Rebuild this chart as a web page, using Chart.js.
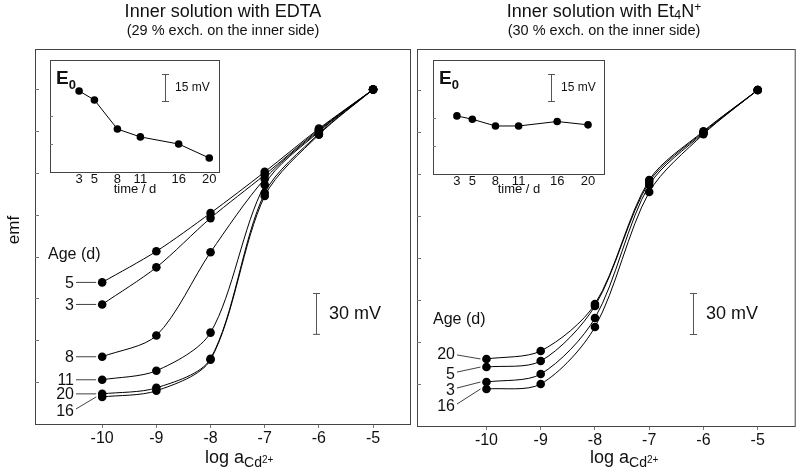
<!DOCTYPE html>
<html>
<head>
<meta charset="utf-8">
<script src="https://cdn.jsdelivr.net/npm/chart.js@4.4.0/dist/chart.umd.min.js"></script>
<style>
  html, body { margin: 0; padding: 0; background: #fff; }
  #wrap { position: relative; width: 800px; height: 471px; overflow: hidden; }
  #wrap canvas { position: absolute; left: 0; top: 0; }
</style>
</head>
<body>
<div id="wrap">
  <canvas id="mainL" width="800" height="471"></canvas>
  <canvas id="mainR" width="800" height="471"></canvas>
  <canvas id="insetL" width="800" height="471"></canvas>
  <canvas id="insetR" width="800" height="471"></canvas>
</div>
<script>
// emf vs log a(Cd2+) for two inner solutions, with E0-vs-time insets

const FONT = '"Liberation Sans", Arial, Helvetica, sans-serif';

const LOG_A = [-10, -9, -8, -7, -6, -5];
const X_TICKS = [-10, -9, -8, -7, -6, -5];
const Y_TICKS = [30, 60, 90, 120, 150, 180, 210, 240];

// EDTA panel, emf in mV (arbitrary zero)
const EDTA_AGES = ['5', '3', '8', '11', '20', '16'];
const EDTA_D5  = [101.5, 123.8, 151.2, 180.7, 211.7, 239.8];
const EDTA_D3  = [85.7, 112.3, 147.6, 178.6, 211.0, 239.8];
const EDTA_D8  = [48.2, 63.4, 123.1, 175.7, 210.2, 239.8];
const EDTA_D11 = [31.7, 38.2, 65.5, 171.4, 209.5, 239.8];
const EDTA_D20 = [21.6, 25.9, 46.8, 165.6, 208.1, 239.8];
const EDTA_D16 = [19.4, 23.8, 46.1, 163.4, 207.4, 239.8];

// Et4N+ panel
const ET4N_AGES = ['20', '5', '3', '16'];
const ET4N_D20 = [47.9, 53.6, 87.1, 175.7, 210.6, 240.0];
const ET4N_D5  = [42.1, 46.4, 85.7, 174.3, 210.0, 240.0];
const ET4N_D3  = [31.4, 37.1, 77.1, 172.1, 209.2, 240.0];
const ET4N_D16 = [26.4, 30.0, 70.7, 167.1, 208.5, 240.0];

// insets: E0 vs time
const DAYS = [3, 5, 8, 11, 16, 20];
const E0_EDTA = [43.4, 38.6, 23.0, 18.8, 15.0, 7.5];
const E0_ET4N = [31.1, 29.3, 25.7, 25.7, 28.1, 26.3];
const INSET_Y_TICKS = [15, 30];

// vertical offset of each age label from its first point (px)
const LBL_DY_EDTA = [0, 0, 0, 0, 0, 14];
const LBL_DY_ET4N = [-5, 7, 8, 17];

function richText(ctx, parts, x, base, align) {
  let total = 0;
  const ws = parts.map(p => {
    ctx.font = (p[3] ? 'bold ' : '') + p[1] + 'px ' + FONT;
    const w = ctx.measureText(p[0]).width;
    total += w;
    return w;
  });
  let cx = align === 'center' ? x - total / 2 : x;
  ctx.textAlign = 'left';
  ctx.textBaseline = 'alphabetic';
  parts.forEach((p, i) => {
    ctx.font = (p[3] ? 'bold ' : '') + p[1] + 'px ' + FONT;
    ctx.fillText(p[0], cx, base + p[2]);
    cx += ws[i];
  });
}

function scaleBar(ctx, x, top, len) {
  ctx.strokeStyle = '#555';
  ctx.lineWidth = 1;
  ctx.beginPath();
  ctx.moveTo(x + 0.5, top); ctx.lineTo(x + 0.5, top + len);
  ctx.moveTo(x - 3, top + 0.5); ctx.lineTo(x + 4, top + 0.5);
  ctx.moveTo(x - 3, top + len - 0.5); ctx.lineTo(x + 4, top + len - 0.5);
  ctx.stroke();
}

function mainDeco(o) {
  return {
    id: 'mainDeco',
    afterDraw(chart) {
      const { ctx, chartArea: a } = chart;
      const x = chart.scales.x, y = chart.scales.y;
      ctx.save();
      // frame
      ctx.strokeStyle = '#444';
      ctx.lineWidth = 1;
      ctx.strokeRect(a.left + 0.5, a.top + 0.5, a.right - a.left - 1, a.bottom - a.top);
      // inward y ticks
      ctx.strokeStyle = '#777';
      ctx.beginPath();
      Y_TICKS.forEach(v => {
        const py = Math.round(y.getPixelForValue(v)) + 0.5;
        ctx.moveTo(a.left, py); ctx.lineTo(a.left + 4, py);
      });
      ctx.stroke();

      ctx.fillStyle = '#111';
      // titles
      richText(ctx, o.title, o.cx, 17, 'center');
      richText(ctx, [[o.sub, 14.5, 0]], o.cx, 35, 'center');
      // x axis title
      richText(ctx, [['log a', 18, 0], ['Cd', 14, 4], ['2+', 10, 0]], o.axX, 463, 'left');

      // age labels with leader lines
      ctx.font = '16px ' + FONT;
      ctx.textAlign = 'left';
      ctx.textBaseline = 'middle';
      ctx.fillText('Age (d)', o.ageX, o.ageY);
      ctx.textAlign = 'right';
      ctx.strokeStyle = '#111';
      ctx.lineWidth = 0.8;
      o.series.forEach((vals, i) => {
        const px = x.getPixelForValue(LOG_A[0]);
        const py = y.getPixelForValue(vals[0]);
        const ly = py + o.dy[i];
        ctx.fillText(o.ages[i], o.lblRight, ly + 1);
        const sy = o.dy[i] > 0 ? ly - 2 : (o.dy[i] < 0 ? ly + 1 : ly);
        ctx.beginPath();
        ctx.moveTo(o.lblRight + 2, sy);
        ctx.lineTo(px - 6, py);
        ctx.stroke();
      });

      // 30 mV scale bar
      const len = y.getPixelForValue(0) - y.getPixelForValue(30);
      scaleBar(ctx, o.barX, 293, len);
      ctx.font = '18px ' + FONT;
      ctx.textAlign = 'left';
      ctx.textBaseline = 'middle';
      ctx.fillStyle = '#111';
      ctx.fillText('30 mV', o.barX + 13, 293 + len / 2);

      if (o.emf) {
        ctx.save();
        ctx.translate(14, 230);
        ctx.rotate(-Math.PI / 2);
        ctx.textAlign = 'center';
        ctx.font = '17px ' + FONT;
        ctx.fillText('emf', 0, 0);
        ctx.restore();
      }
      ctx.restore();
    }
  };
}

function insetDeco(o) {
  return {
    id: 'insetDeco',
    beforeDraw(chart) {
      const { ctx, chartArea: a } = chart;
      ctx.save();
      ctx.fillStyle = '#fff';
      ctx.fillRect(a.left, a.top, a.right - a.left, a.bottom - a.top);
      ctx.restore();
    },
    afterDraw(chart) {
      const { ctx, chartArea: a } = chart;
      const y = chart.scales.y;
      ctx.save();
      ctx.strokeStyle = '#444';
      ctx.lineWidth = 1;
      ctx.strokeRect(a.left + 0.5, a.top + 0.5, a.right - a.left - 1, a.bottom - a.top);
      ctx.strokeStyle = '#777';
      ctx.beginPath();
      INSET_Y_TICKS.forEach(v => {
        const py = Math.round(y.getPixelForValue(v)) + 0.5;
        ctx.moveTo(a.left, py); ctx.lineTo(a.left + 3, py);
      });
      ctx.stroke();

      ctx.fillStyle = '#111';
      richText(ctx, [['E', 19, 0, true], ['0', 13, 5, true]], a.left + 6, 84, 'left');

      const len = y.getPixelForValue(0) - y.getPixelForValue(15);
      scaleBar(ctx, o.barX, 74, len);
      ctx.fillStyle = '#111';
      ctx.font = '12px ' + FONT;
      ctx.textAlign = 'left';
      ctx.textBaseline = 'middle';
      ctx.fillText('15 mV', o.barX + 10, 74 + len / 2);

      ctx.font = '13px ' + FONT;
      ctx.textAlign = 'center';
      ctx.fillText('time / d', (a.left + a.right) / 2, 189);
      ctx.restore();
    }
  };
}

function mainChart(id, series, ages, area, xMin, xMax, yMax, deco) {
  const datasets = series.map((vals, i) => ({
    label: ages[i],
    data: LOG_A.map((v, j) => ({ x: v, y: vals[j] })),
    borderColor: '#000',
    backgroundColor: '#000',
    borderWidth: 1,
    pointRadius: 4.3,
    pointBorderWidth: 0,
    tension: 0.3,
    fill: false
  }));
  return new Chart(document.getElementById(id), {
    type: 'line',
    data: { datasets },
    options: {
      responsive: false,
      animation: false,
      events: [],
      layout: { padding: { left: area.l, right: 800 - area.r, top: area.t, bottom: 0 } },
      plugins: { legend: { display: false }, tooltip: { enabled: false } },
      scales: {
        x: {
          type: 'linear', min: xMin, max: xMax,
          afterBuildTicks: s => { s.ticks = X_TICKS.map(v => ({ value: v })); },
          afterFit: s => { s.height = 471 - area.b; },
          grid: { display: true, drawOnChartArea: false, drawTicks: true, tickLength: 4, color: '#777' },
          border: { display: false },
          ticks: { font: { family: FONT, size: 16 }, color: '#111', padding: 1, autoSkip: false, maxRotation: 0,
                   callback: v => String(v) }
        },
        y: { display: false, min: 0, max: yMax }
      }
    },
    plugins: [mainDeco(deco)]
  });
}

function insetChart(id, vals, area, xMin, xMax, yMax, deco) {
  return new Chart(document.getElementById(id), {
    type: 'line',
    data: {
      datasets: [{
        data: DAYS.map((d, j) => ({ x: d, y: vals[j] })),
        borderColor: '#000',
        backgroundColor: '#000',
        borderWidth: 1,
        pointRadius: 3.8,
        pointBorderWidth: 0,
        tension: 0,
        fill: false
      }]
    },
    options: {
      responsive: false,
      animation: false,
      events: [],
      layout: { padding: { left: area.l, right: 800 - area.r, top: area.t, bottom: 0 } },
      plugins: { legend: { display: false }, tooltip: { enabled: false } },
      scales: {
        x: {
          type: 'linear', min: xMin, max: xMax,
          afterBuildTicks: s => { s.ticks = DAYS.map(v => ({ value: v })); },
          afterFit: s => { s.height = 471 - area.b; },
          grid: { display: false, drawTicks: false },
          border: { display: false },
          ticks: { font: { family: FONT, size: 13 }, color: '#111', padding: 0, autoSkip: false, maxRotation: 0 }
        },
        y: { display: false, min: 0, max: yMax }
      }
    },
    plugins: [insetDeco(deco)]
  });
}

mainChart('mainL',
  [EDTA_D5, EDTA_D3, EDTA_D8, EDTA_D11, EDTA_D20, EDTA_D16], EDTA_AGES,
  { l: 35, r: 411, t: 49, b: 424 }, -11.24, -4.3, 268.8,
  {
    title: [['Inner solution with EDTA', 18, 0]],
    sub: '(29 % exch. on the inner side)', cx: 223, axX: 205,
    series: [EDTA_D5, EDTA_D3, EDTA_D8, EDTA_D11, EDTA_D20, EDTA_D16],
    ages: EDTA_AGES, dy: LBL_DY_EDTA, lblRight: 74,
    ageX: 48, ageY: 255, barX: 316, emf: true
  });

mainChart('mainR',
  [ET4N_D20, ET4N_D5, ET4N_D3, ET4N_D16], ET4N_AGES,
  { l: 417, r: 796, t: 49, b: 426 }, -11.28, -4.3, 269.3,
  {
    title: [['Inner solution with Et', 18, 0], ['4', 13, 2], ['N', 18, 0], ['+', 12, -6]],
    sub: '(30 % exch. on the inner side)', cx: 604, axX: 590,
    series: [ET4N_D20, ET4N_D5, ET4N_D3, ET4N_D16],
    ages: ET4N_AGES, dy: LBL_DY_ET4N, lblRight: 455,
    ageX: 433, ageY: 320, barX: 693, emf: false
  });

insetChart('insetL', E0_EDTA, { l: 50, r: 220, t: 60, b: 172 }, -0.8, 21.4, 60, { barX: 165 });
insetChart('insetR', E0_ET4N, { l: 433, r: 605, t: 60, b: 174 }, -0.1, 22.2, 61, { barX: 551 });
</script>
</body>
</html>
